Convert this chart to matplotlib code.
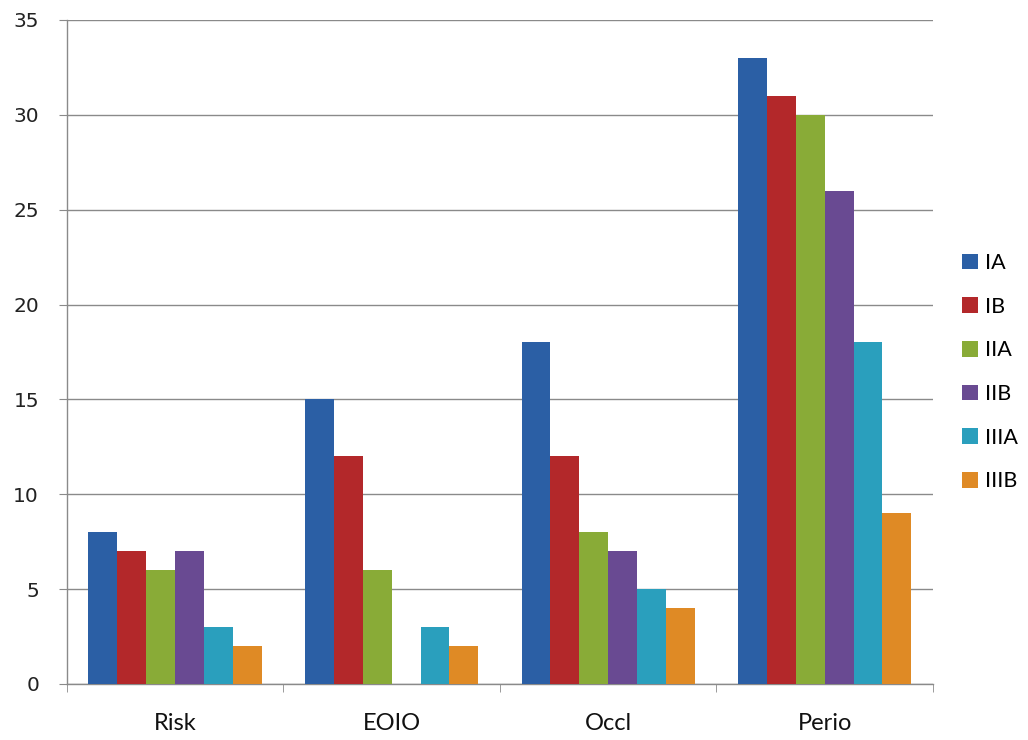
import numpy as np
import matplotlib
matplotlib.use("Agg")
import matplotlib.pyplot as plt
from matplotlib.patches import Patch

categories = ["Risk", "EOIO", "Occl", "Perio"]
series_names = ["IA", "IB", "IIA", "IIB", "IIIA", "IIIB"]
ia = [8, 15, 18, 33]
ib = [7, 12, 12, 31]
iia = [6, 6, 8, 30]
iib = [7, 0, 7, 26]
iiia = [3, 3, 5, 18]
iiib = [2, 2, 4, 9]
y_ticks = [0, 5, 10, 15, 20, 25, 30, 35]

colors = ["#2b5fa5", "#b3282a", "#89ab37", "#694a92", "#2a9fbd", "#df8a25"]
series = [ia, ib, iia, iib, iiia, iiib]

fig = plt.figure(figsize=(10.28, 7.40), dpi=100)
ax = fig.add_axes([0.065, 0.0757, 0.8426, 0.8973])

x = np.arange(len(categories))
width = 0.8 / len(series)
for i, (vals, color) in enumerate(zip(series, colors)):
    offs = (i - (len(series) - 1) / 2) * width
    ax.bar(x + offs, vals, width, color=color, zorder=3, linewidth=0)

ax.set_xlim(-0.5, len(categories) - 0.5)
ax.set_ylim(0, 35)
ax.set_yticks(y_ticks)
ax.set_yticklabels([str(t) for t in y_ticks], fontsize=14.5, family="DejaVu Sans",
                   color="#222222")
ax.yaxis.grid(True, color="#8a8a8a", linewidth=1.0, zorder=0)

ax.set_xticks(x)
ax.set_xticklabels(categories, fontsize=17, family="Lato", color="#111111")
ax.tick_params(axis="x", length=0, pad=21)
ax.set_xticks(np.arange(len(categories) + 1) - 0.5, minor=True)
ax.tick_params(axis="x", which="minor", length=6, color="#8a8a8a", direction="out")
ax.tick_params(axis="y", length=6, color="#8a8a8a", direction="out", pad=14)

for side in ("top", "right"):
    ax.spines[side].set_visible(False)
for side in ("left", "bottom"):
    ax.spines[side].set_color("#8a8a8a")
    ax.spines[side].set_linewidth(1.0)

handles = [Patch(facecolor=c, edgecolor="none") for c in colors]
fig.legend(handles, series_names, loc="center left", bbox_to_anchor=(0.936, 0.497),
           frameon=False, prop={"family": "Lato", "size": 15.5},
           borderpad=0, borderaxespad=0,
           handlelength=0.75, handleheight=0.75, handletextpad=0.3, labelspacing=1.1)

fig.savefig("out.png", dpi=100, facecolor="white")
